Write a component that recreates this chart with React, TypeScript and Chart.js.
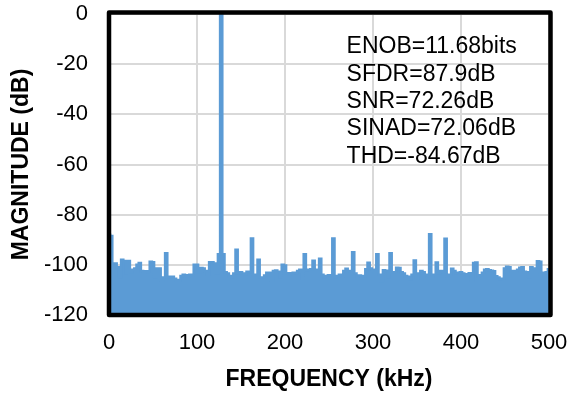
import React, { useEffect, useRef } from "react";
import { Chart, registerables } from "chart.js";

Chart.register(...registerables);

// FFT bin spacing (kHz) of the plotted spectrum
const BIN_KHZ = 2.5;

// Magnitude per bin (dB), bins 0, 2.5, 5 ... 500 kHz
const MAGNITUDE_DB: number[] = [
  -88, -88.5, -99.5, -99.5, -101, -105, -98, -98.5, -103.5, -98.5,
  -103, -102, -101.5, -100, -99.3, -102.5, -102.8, -102.6, -103, -98.8,
  -99, -105, -101.5, -101.5, -106, -105, -95.4, -104.8, -105, -104.8,
  -105.5, -106, -106, -104.5, -104, -104.2, -104.5, -104, -104.8, -100,
  -100, -103, -101.3, -101.5, -102.5, -104, -99, -99, -99.5, -103.5,
  -95.8, 0, -95.8, -103, -103.5, -104.5, -105, -103.5, -94, -103.5,
  -103, -103.5, -103.8, -102.8, -103, -89.5, -104, -104, -98, -105,
  -105, -104.3, -103.2, -103.2, -106, -102.5, -102.3, -102.8, -105, -100,
  -100.3, -103.4, -104, -103.4, -103.2, -103.5, -102.5, -102, -105.5, -95.8,
  -102.3, -102, -101.8, -98.4, -102, -102, -97.6, -104, -105, -104.5,
  -104.2, -104.5, -89.5, -105, -104.5, -104, -104.5, -102.5, -101.6, -102.5,
  -102.8, -95, -103.5, -104.5, -104.3, -104.8, -104.5, -101.8, -99.2, -101.5,
  -102, -102.5, -95.8, -104, -106.5, -102.2, -102.4, -105, -95.4, -103,
  -103, -101.2, -101.3, -103, -103.5, -104.5, -104.8, -105.8, -104, -98.3,
  -105.5, -103.5, -102.5, -103, -104, -104.8, -87.8, -104.8, -104, -99.1,
  -103.5, -102.5, -103, -89.6, -104.5, -104, -101.6, -102.5, -103.5, -103.2,
  -103, -103.5, -103.8, -104.2, -103.4, -106, -99.3, -99.1, -104.5, -104.2,
  -103.2, -102, -101.8, -102.2, -102.4, -102.6, -104.6, -105, -105.8, -105.5,
  -101.5, -100.8, -101, -102.5, -102.5, -102.5, -102, -101.2, -101, -102.8,
  -103, -105, -101, -101.5, -104, -98.6, -98.8, -103.2, -104.5, -103,
  -101.8,
];

const X_TICKS = [0, 100, 200, 300, 400, 500];
const Y_TICKS = [0, -20, -40, -60, -80, -100, -120];

const METRICS = [
  "ENOB=11.68bits",
  "SFDR=87.9dB",
  "SNR=72.26dB",
  "SINAD=72.06dB",
  "THD=-84.67dB",
];

const FONT = "'Liberation Sans', Arial, sans-serif";
const BLUE = "#5b9bd5";

const overlayPlugin = {
  id: "overlay",
  afterDraw(chart: any) {
    const { ctx, chartArea, scales } = chart;
    const { left, right, top, bottom } = chartArea;
    ctx.save();
    // frame
    ctx.beginPath();
    ctx.lineWidth = 4.5;
    ctx.strokeStyle = "#000000";
    ctx.lineJoin = "round";
    ctx.rect(left, top - 1.5, right - left + 1.5, bottom - top + 1.5);
    ctx.stroke();
    // metrics text
    ctx.font = `23px ${FONT}`;
    ctx.fillStyle = "#000";
    ctx.textBaseline = "alphabetic";
    ctx.textAlign = "left";
    const tx = scales.x.getPixelForValue(270);
    const ty = scales.y.getPixelForValue(-15.6);
    METRICS.forEach((t, i) => ctx.fillText(t, tx, ty + i * 27.4));
    ctx.restore();
  },
};

export default function App() {
  const ref = useRef<HTMLCanvasElement | null>(null);

  useEffect(() => {
    if (!ref.current) return;
    const points = MAGNITUDE_DB.map((v, i) => ({ x: i * BIN_KHZ, y: v }));
    const chart = new Chart(ref.current, {
      type: "line",
      data: {
        datasets: [
          {
            data: points,
            stepped: "middle",
            fill: "start",
            backgroundColor: BLUE,
            borderColor: BLUE,
            borderWidth: 2.5,
            pointRadius: 0,
          },
        ],
      },
      options: {
        responsive: false,
        animation: false,
        events: [],
        layout: { padding: { left: 0, right: 22, top: 14, bottom: 0 } },
        plugins: {
          legend: { display: false },
          tooltip: { enabled: false },
        },
        scales: {
          x: {
            type: "linear",
            min: 0,
            max: 500,
            afterBuildTicks: (s: any) => {
              s.ticks = X_TICKS.map((v) => ({ value: v }));
            },
            afterFit: (s: any) => {
              s.height = 81;
            },
            grid: {
              color: "#d9d9d9",
              lineWidth: 2,
              drawTicks: true,
              tickLength: 15,
              tickColor: "rgba(0,0,0,0)",
            },
            border: { display: false },
            ticks: {
              padding: 0,
              color: "#000",
              maxRotation: 0,
              font: { family: FONT, size: 22 },
            },
            title: {
              display: true,
              text: "FREQUENCY (kHz)",
              color: "#000",
              font: { family: FONT, size: 23, weight: "bold" },
              padding: { top: 0, bottom: 3 },
            },
          },
          y: {
            type: "linear",
            min: -120,
            max: 0,
            afterBuildTicks: (s: any) => {
              s.ticks = Y_TICKS.map((v) => ({ value: v }));
            },
            afterFit: (s: any) => {
              s.width = 109;
            },
            grid: {
              color: "#d9d9d9",
              lineWidth: 2,
              drawTicks: true,
              tickLength: 21,
              tickColor: "rgba(0,0,0,0)",
            },
            border: { display: false },
            ticks: {
              padding: 0,
              color: "#000",
              font: { family: FONT, size: 22 },
            },
            title: {
              display: true,
              text: "MAGNITUDE (dB)",
              color: "#000",
              font: { family: FONT, size: 23, weight: "bold" },
              padding: { top: 8, bottom: 0 },
            },
          },
        },
      },
      plugins: [overlayPlugin],
    });
    return () => chart.destroy();
  }, []);

  return (
    <div style={{ position: "fixed", left: 0, top: 0, width: 571, height: 396, background: "#fff" }}>
      <canvas ref={ref} width={571} height={396} style={{ display: "block" }} />
    </div>
  );
}
